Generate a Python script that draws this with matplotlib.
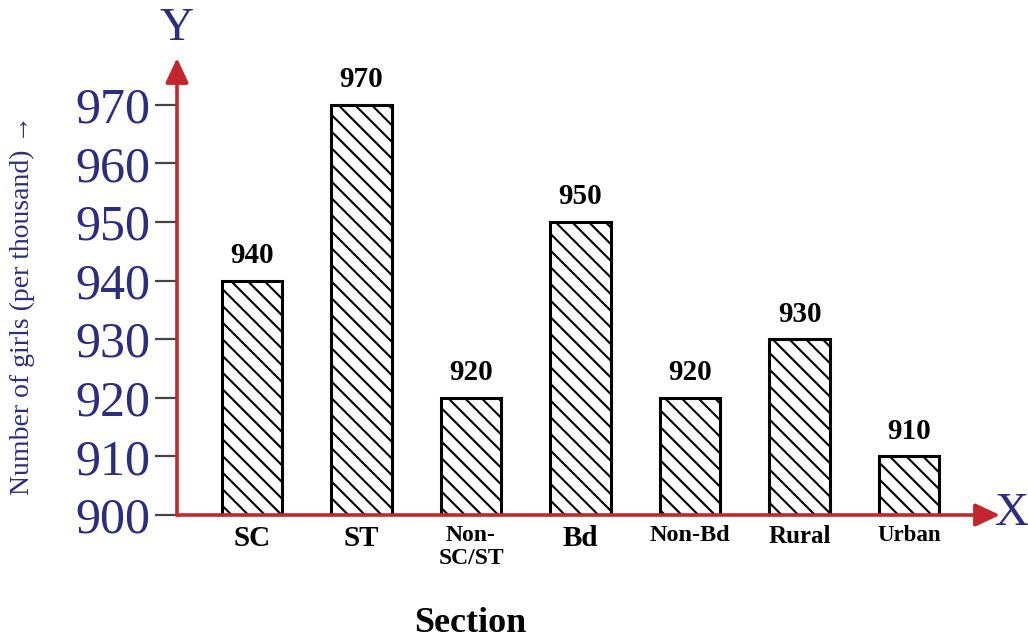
import numpy as np
import matplotlib
matplotlib.use("Agg")
import matplotlib.pyplot as plt

# girls per thousand boys, by section
sections = ["SC", "ST", "Non-\nSC/ST", "Bd", "Non-Bd", "Rural", "Urban"]
girls_per_thousand = [940, 970, 920, 950, 920, 930, 910]
y_ticks = [900, 910, 920, 930, 940, 950, 960, 970]

AXIS_RED = "#c1272d"
NAVY = "#2c2d7c"

plt.rcParams["font.family"] = ["Liberation Serif", "DejaVu Serif"]
plt.rcParams["hatch.linewidth"] = 1.5
plt.rcParams["hatch.color"] = "black"

fig = plt.figure(figsize=(10.28, 6.43), dpi=100)
W, H = 1028, 643
# axes box in pixels: left 177, right 1000, bottom 515, top 58
ax = fig.add_axes([177 / W, 1 - 515 / H, (1000 - 177) / W, (515 - 58) / H])

x = np.arange(len(sections))
ax.bar(x, np.array(girls_per_thousand) - 900, bottom=900, width=0.55,
       facecolor="white", edgecolor="black", linewidth=2.2, hatch="\\\\",
       zorder=2)

for xi, v in zip(x, girls_per_thousand):
    ax.text(xi, v + 2.0, str(v), ha="center", va="bottom",
            fontsize=21, fontweight="bold", color="black")

ax.set_xlim(-0.685, 6.83)
ax.set_ylim(900, 978)

for s in ax.spines.values():
    s.set_visible(False)

# red axes with arrow heads
arrow = dict(arrowstyle="-|>,head_length=1.5,head_width=0.7", color=AXIS_RED,
             lw=2.6, shrinkA=0, shrinkB=0)
ax.annotate("", xy=(0, 1.0), xytext=(0, 0), xycoords="axes fraction",
            arrowprops=arrow, annotation_clip=False, zorder=5)
ax.annotate("", xy=(1.0, 0), xytext=(0, 0), xycoords="axes fraction",
            arrowprops=arrow, annotation_clip=False, zorder=5)

ax.set_yticks(y_ticks)
ax.set_yticklabels([str(t) for t in y_ticks])
ax.tick_params(axis="y", direction="out", length=16, width=1.6,
               color="#444444", pad=3, labelsize=36, labelcolor=NAVY)

ax.set_xticks(x)
ax.set_xticklabels(sections, fontweight="bold", va="top", linespacing=1.15)
ax.tick_params(axis="x", length=0, pad=7, labelcolor="black")
label_sizes = [21, 21, 17, 21, 17.5, 18, 16.5]
for lab, fs in zip(ax.get_xticklabels(), label_sizes):
    lab.set_fontsize(fs)

fig.text(22 / W, 1 - 305 / H, "Number of girls (per thousand) \u2192",
         rotation=90, ha="center", va="center", fontsize=20, color=NAVY,
         family=["Liberation Serif", "DejaVu Serif"])
fig.text(177 / W, 1 - 29 / H, "Y", ha="center", va="center",
         fontsize=34, color=NAVY)
fig.text(1012 / W, 1 - 514 / H, "X", ha="center", va="center",
         fontsize=34, color=NAVY)
fig.text(470 / W, 1 - 624 / H, "Section", ha="center", va="center",
         fontsize=26, fontweight="bold")

fig.savefig("out.png", dpi=100, facecolor="white")
